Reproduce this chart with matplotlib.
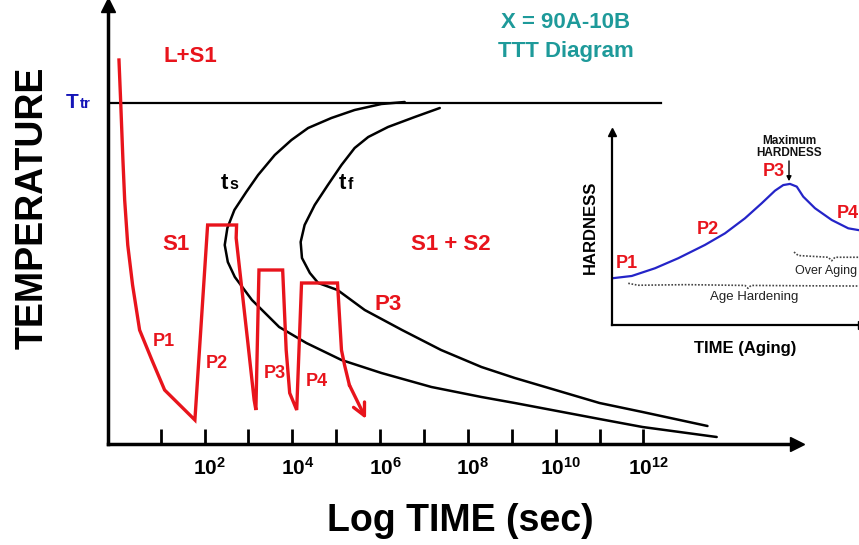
import matplotlib
matplotlib.use('Agg')
import matplotlib.pyplot as plt
from matplotlib.transforms import ScaledTranslation

plt.rcParams['font.family'] = ['Liberation Sans', 'DejaVu Sans']
plt.rcParams['mathtext.fontset'] = 'custom'
plt.rcParams['mathtext.rm'] = 'Liberation Sans'
plt.rcParams['mathtext.bf'] = 'Liberation Sans:bold'

# ---------------- data (x = log10 time, y = temperature, arbitrary units) -------------
tick_decades = list(range(1, 13))
label_decades = [2, 4, 6, 8, 10, 12]
T_tr = 341
T_tr_end = 12.4

quench_logt = [0.05, 0.09, 0.14, 0.18, 0.25, 0.36, 0.52, 0.80, 1.09, 1.78,
               2.07, 2.73, 2.72, 2.98, 3.13, 3.17,
               3.24, 3.78, 3.86, 3.94, 4.10,
               4.21, 5.03, 5.12, 5.19, 5.30]
quench_temp = [384, 341, 284, 244, 199, 159, 114, 84, 54, 24,
               219, 219, 206, 104, 44, 34,
               174, 174, 94, 51, 34,
               161, 161, 94, 79, 59]
quench_tip = (5.68, 25)

ts_logt = [6.56, 6.03, 5.42, 4.89, 4.36, 3.98, 3.60, 3.22, 2.95, 2.68, 2.52, 2.46, 2.53,
           2.69, 3.08, 3.70, 4.32, 5.12, 6.03, 7.17, 8.31, 9.07, 11.00, 11.98, 13.67]
ts_temp = [342, 340, 334, 326, 316, 304, 289, 269, 252, 234, 216, 199, 182,
           167, 144, 117, 101, 84, 71, 57, 47, 41, 25, 17, 7]

tf_logt = [7.36, 6.79, 6.18, 5.73, 5.42, 5.12, 4.81, 4.51, 4.28, 4.19, 4.22, 4.40, 4.59,
           5.03, 5.65, 6.50, 7.39, 8.31, 9.07, 11.00, 11.98, 13.46]
tf_temp = [336, 327, 317, 307, 296, 279, 259, 239, 219, 202, 186, 171, 161,
           154, 134, 114, 94, 77, 66, 41, 32, 18]

# inset: hardness vs aging time (arbitrary units 0-100)
aging_time = [0, 7.9, 17.2, 26.5, 37.2, 45.2, 53.2, 59.9, 65.2, 68.5, 71.2, 73.9,
              76.5, 81.2, 87.9, 94.5, 98.5]
hardness = [24.2, 25.4, 29.4, 34.6, 41.5, 47.5, 55.3, 63.1, 69.6, 72.5, 73.1, 71.7,
            66.5, 60.5, 54.4, 50.1, 49.2]
age_brace_x = [6.5, 10.4, 30, 53.2, 54.4, 55.6, 80, 98.8]
age_brace_y = [21.6, 20.6, 20.9, 20.5, 19.0, 20.5, 20.3, 20.2]
over_brace_x = [72.8, 74.5, 86.5, 87.9, 89.2, 100]
over_brace_y = [37.8, 36.0, 35.1, 33.3, 35.1, 35.1]

RED = '#E8141C'
TEAL = '#1E9A9A'
BLUE = '#1616B8'
HBLUE = '#2424C8'

W, H = 859, 545
fig = plt.figure(figsize=(W / 100, H / 100), dpi=100)


def ftext(px, py, s, **kw):
    return fig.text(px / W, 1 - py / H, s, **kw)


# ---------------- main axes ----------------
ax = fig.add_axes([108 / W, 1 - 444 / H, (797 - 108) / W, (444 - 5) / H])
ax.set_xlim(-0.2, 15.5)
ax.set_ylim(0, 439)
for s in ['top', 'right']:
    ax.spines[s].set_visible(False)
for s in ['left', 'bottom']:
    ax.spines[s].set_linewidth(2.5)
ax.plot([0], [1], marker='^', ms=10, color='black', transform=ax.transAxes, clip_on=False)
ax.plot([1], [0], marker='>', ms=10, color='black', transform=ax.transAxes, clip_on=False)
ax.set_yticks([])
ax.set_xticks(tick_decades)
ax.set_xticklabels([r'$\mathbf{10^{%d}}$' % d if d in label_decades else '' for d in tick_decades],
                   fontsize=15)
ax.tick_params(axis='x', direction='in', length=11, width=2, pad=9)
off = ScaledTranslation(0.05, 0, fig.dpi_scale_trans)
for lab in ax.get_xticklabels():
    lab.set_transform(lab.get_transform() + off)

ax.plot([-0.2, T_tr_end], [T_tr, T_tr], color='black', lw=1.6)
ax.plot(ts_logt, ts_temp, color='black', lw=1.8, solid_joinstyle='round', solid_capstyle='round')
ax.plot(tf_logt, tf_temp, color='black', lw=1.8, solid_joinstyle='round', solid_capstyle='round')
ax.plot(quench_logt, quench_temp, color=RED, lw=2.4, solid_joinstyle='miter')
ax.annotate('', xy=quench_tip, xytext=(quench_logt[-1], quench_temp[-1]),
            arrowprops=dict(arrowstyle='->', color=RED, lw=2.4,
                            mutation_scale=22, shrinkA=0, shrinkB=0))

# axis titles
ftext(460, 521, 'Log TIME (sec)', fontsize=27, fontweight='bold', ha='center', va='center')
ftext(33, 208, 'TEMPERATURE', fontsize=27, fontweight='bold', ha='center', va='center',
      rotation=90)

# Ttr label
ftext(66, 108, 'T', fontsize=15, fontweight='bold', color=BLUE, ha='left', va='baseline')
ftext(79.5, 108, 'tr', fontsize=11, fontweight='bold', color=BLUE, ha='left', va='baseline')
# ts / tf labels
ftext(221, 189, 't', fontsize=16, fontweight='bold', color='black', ha='left', va='baseline')
ftext(229.5, 189, 's', fontsize=11.5, fontweight='bold', color='black', ha='left', va='baseline')
ftext(339, 189, 't', fontsize=16, fontweight='bold', color='black', ha='left', va='baseline')
ftext(347.5, 189, 'f', fontsize=11.5, fontweight='bold', color='black', ha='left', va='baseline')

# region / path labels
ftext(190, 57, 'L+S1', fontsize=16, fontweight='bold', color=RED, ha='center', va='center')
ftext(176, 244, 'S1', fontsize=16, fontweight='bold', color=RED, ha='center', va='center')
ftext(451, 244, 'S1 + S2', fontsize=16, fontweight='bold', color=RED, ha='center', va='center')
ftext(388, 305, 'P3', fontsize=16, fontweight='bold', color=RED, ha='center', va='center')
ftext(164, 342, 'P1', fontsize=13, fontweight='bold', color=RED, ha='center', va='center')
ftext(217, 363, 'P2', fontsize=13, fontweight='bold', color=RED, ha='center', va='center')
ftext(275, 373, 'P3', fontsize=13, fontweight='bold', color=RED, ha='center', va='center')
ftext(317, 381, 'P4', fontsize=13, fontweight='bold', color=RED, ha='center', va='center')

ftext(566, 23, 'X = 90A-10B', fontsize=16, fontweight='bold', color=TEAL, ha='center', va='center')
ftext(566, 51, 'TTT Diagram', fontsize=16, fontweight='bold', color=TEAL, ha='center', va='center')

# ---------------- inset ----------------
ins = fig.add_axes([612 / W, 1 - 325 / H, (862 - 612) / W, (325 - 132) / H])
ins.patch.set_alpha(0)
ins.set_xlim(0, 100)
ins.set_ylim(0, 100)
for s in ['top', 'right']:
    ins.spines[s].set_visible(False)
for s in ['left', 'bottom']:
    ins.spines[s].set_linewidth(1.6)
ins.set_xticks([])
ins.set_yticks([])
ins.plot([0], [1], marker='^', ms=6, color='black', transform=ins.transAxes, clip_on=False)
ins.plot([1], [0], marker='>', ms=6, color='black', transform=ins.transAxes, clip_on=False)
ins.plot(aging_time, hardness, color=HBLUE, lw=1.6, solid_joinstyle='round')
ins.plot(age_brace_x, age_brace_y, color='#444444', lw=1.2, ls=(0, (1, 1)))
ins.plot(over_brace_x, over_brace_y, color='#444444', lw=1.2, ls=(0, (1, 1)))
ins.annotate('', xy=(70.8, 74.5), xytext=(70.8, 85),
             arrowprops=dict(arrowstyle='-|>', color='black', lw=1.0, mutation_scale=7,
                             shrinkA=0, shrinkB=0))

ftext(590, 227, 'HARDNESS', fontsize=12, fontweight='bold', ha='center', va='center', rotation=90)
ftext(745, 348, 'TIME (Aging)', fontsize=12, fontweight='bold', ha='center', va='center')
ftext(789, 147, 'Maximum\nHARDNESS', fontsize=8.5, fontweight='bold', ha='center', va='center',
      linespacing=1.0, color='#111111')
ftext(774, 172, 'P3', fontsize=13, fontweight='bold', color=RED, ha='center', va='center')
ftext(627, 264, 'P1', fontsize=13, fontweight='bold', color=RED, ha='center', va='center')
ftext(708, 230, 'P2', fontsize=13, fontweight='bold', color=RED, ha='center', va='center')
ftext(837, 213, 'P4', fontsize=13, fontweight='bold', color=RED, ha='left', va='center')
ftext(754, 297, 'Age Hardening', fontsize=9.5, ha='center', va='center', color='#222222')
ftext(795, 271, 'Over Aging', fontsize=9, ha='left', va='center', color='#222222')

fig.savefig('out.png', dpi=100)
